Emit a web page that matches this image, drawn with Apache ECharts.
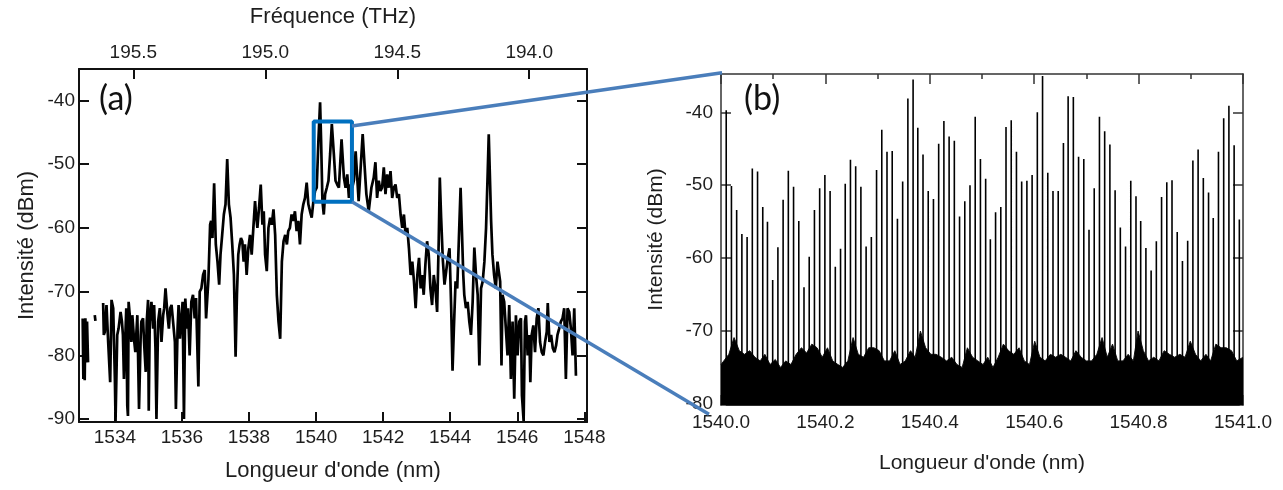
<!DOCTYPE html>
<html><head><meta charset="utf-8">
<script src="https://cdn.jsdelivr.net/npm/echarts@6/dist/echarts.min.js"></script>
<style>html,body{margin:0;padding:0;background:#fff}#c{width:1283px;height:490px}</style>
</head><body><div id="c"></div>
<script>
// ---------- Panel (a): broad spectrum ----------
const leftNm = [1533.04,1533.06,1533.08,1533.10,1533.12,1533.15,1533.17,1533.20,1533.30,1533.40,1533.42,1533.50,
1533.65,1533.67,1533.70,1533.75,1533.80,1533.86,1533.90,1533.95,1534.00,1534.02,1534.07,1534.11,1534.17,1534.21,1534.24,1534.27,
1534.34,1534.37,1534.39,1534.41,1534.46,1534.49,1534.52,1534.57,1534.61,1534.67,1534.72,1534.77,1534.79,1534.84,1534.87,1534.92,
1534.95,1534.99,1535.01,1535.04,1535.09,1535.14,1535.17,1535.21,1535.24,1535.29,1535.34,1535.39,1535.44,1535.47,1535.51,1535.53,
1535.57,1535.61,1535.65,1535.69,1535.74,1535.79,1535.82,1535.87,1535.90,1535.94,1535.98,1536.02,1536.06,1536.10,1536.15,1536.18,
1536.23,1536.28,1536.33,1536.38,1536.42,1536.49,1536.53,1536.58,1536.63,1536.68,
1536.72,1536.79,1536.84,1536.87,1536.91,1536.96,1537.01,1537.06,1537.11,1537.15,1537.20,1537.25,1537.30,1537.35,1537.40,1537.45,
1537.50,1537.55,1537.60,1537.64,1537.68,1537.72,1537.76,1537.80,1537.84,1537.88,1537.93,1537.98,1538.03,1538.08,1538.13,1538.18,
1538.21,1538.25,1538.30,1538.35,1538.38,1538.40,1538.44,1538.48,1538.53,1538.58,1538.63,1538.68,1538.73,1538.78,1538.83,1538.88,
1538.93,1538.98,1539.03,1539.08,1539.13,1539.17,1539.22,1539.27,1539.32,1539.37,1539.42,1539.47,1539.52,1539.57,1539.62,1539.67,
1539.72,1539.77,1539.82,1539.87,1539.92,1539.97,1540.02,1540.07,1540.12,1540.15,1540.19,1540.23,1540.27,1540.32,1540.37,1540.42,
1540.47,1540.53,1540.58,1540.63,1540.68,1540.76,1540.83,1540.88,1540.93,1540.98,1541.03,1541.08,1541.13,1541.18,1541.27,1541.39,
1541.45,1541.50,1541.57,1541.65,1541.72,1541.77,1541.82,1541.87,1541.92,1541.97,1542.02,1542.07,1542.12,1542.17,1542.22,1542.27,
1542.32,1542.37,1542.42,1542.47,1542.52,1542.57,1542.62,1542.67,1542.72,1542.77,1542.82,1542.87,1542.92,1542.97,1543.02,1543.07,
1543.12,1543.16,1543.21,1543.26,1543.31,1543.36,1543.41,1543.46,1543.51,1543.56,1543.61,1543.66,1543.69,1543.73,1543.78,1543.83,
1543.88,1543.93,1543.98,1544.03,1544.07,1544.11,1544.16,1544.21,1544.26,1544.31,
1544.35,1544.39,1544.42,1544.47,1544.52,1544.57,1544.62,1544.67,1544.72,1544.77,1544.82,1544.87,1544.92,1544.97,1545.02,1545.07,
1545.12,1545.15,1545.18,1545.22,1545.26,1545.31,1545.36,1545.41,1545.46,1545.49,1545.53,1545.56,1545.61,1545.66,1545.71,1545.76,
1545.81,1545.86,1545.91,1545.96,1546.01,1546.06,1546.11,1546.14,1546.19,1546.23,1546.26,1546.31,1546.36,1546.39,1546.43,1546.48,
1546.53,1546.58,1546.63,1546.68,1546.73,1546.78,1546.83,1546.88,1546.91,1546.96,1547.01,1547.06,1547.11,1547.16,1547.20,1547.25,
1547.30,1547.35,1547.40,1547.45,1547.50,1547.55,1547.60,1547.65,1547.70,1547.75];
const leftDb = [-74.2,-83.7,-74.7,-83.9,-74.2,-81.1,-74.7,-81.1,null,-73.7,-74.6,null,
-71.8,-76.8,-76.3,-72.1,-77.9,-84.2,-71.3,-72.6,-83.7,-90.3,-76.8,-75.8,-73.2,-74.7,-76.8,-83.7,
-72.6,-87.9,-89.5,-71.6,-74.7,-77.9,-73.7,-77.4,-79.5,-73.7,-88.4,-76.8,-74.7,-74.2,-77.9,-82.6,
-74.7,-71.3,-88.7,-74.7,-71.6,-75.8,-72.1,-78.9,-90.0,-74.7,-72.6,-77.9,-73.7,-72.6,-69.5,-69.5,
-73.7,-75.8,-72.6,-72.1,-71.8,-77.9,-88.4,-75.8,-72.1,-77.4,-74.2,-71.6,-90.0,-71.1,-75.8,-72.6,
-80.0,-71.6,-70.5,-74.2,-71.0,-84.9,-70.0,-69.5,-67.4,-66.6,
-74.2,-68.0,-59.5,-58.9,-61.6,-53.0,-62.6,-65.3,-68.9,-64.2,-61.1,-57.9,-56.3,-49.2,-56.3,-58.4,
-62.6,-67.4,-80.2,-70.5,-64.2,-62.6,-61.6,-62.1,-65.3,-62.6,-67.4,-63.2,-61.1,-64.2,-60.0,-55.8,
-57.9,-60.0,-56.8,-53.2,-53.4,-59.5,-57.4,-64.2,-66.8,-60.0,-58.4,-59.5,-57.1,-61.1,-70.5,-74.7,
-77.4,-65.3,-62.1,-61.1,-62.6,-60.5,-60.0,-57.9,-58.9,-57.4,-60.5,-58.9,-62.6,-57.9,-56.3,-55.3,
-52.9,-56.3,-57.4,-58.4,-55.8,-54.2,-53.7,-46.3,-40.3,-46.3,-55.8,-57.9,-54.7,-53.7,-52.6,-48.4,
-43.7,-48.4,-52.6,-53.2,-53.7,-46.1,-52.1,-53.7,-51.6,-55.3,-53.2,-53.7,-52.5,-48.0,-55.8,-45.3,
-50.5,-54.7,-57.4,-53.7,-52.1,-49.7,-55.3,-52.6,-54.2,-53.7,-50.5,-54.7,-51.6,-53.7,-51.1,-55.3,
-53.7,-53.2,-55.3,-54.7,-57.9,-60.0,-57.9,-61.1,-60.0,-63.2,-67.4,-65.3,-68.4,-72.6,-67.4,-64.7,
-69.5,-67.4,-70.5,-65.8,-62.1,-64.2,-69.5,-72.1,-67.4,-69.5,-73.2,-61.6,-52.1,-58.4,-65.0,-68.9,
-66.8,-64.7,-63.2,-72.6,-82.4,-75.8,-68.4,-69.5,-61.6,-53.7,
-60.5,-67.4,-70.5,-72.6,-71.6,-74.7,-76.8,-71.6,-63.1,-67.4,-70.5,-81.6,-69.5,-68.4,-65.3,-60.0,
-51.1,-45.3,-51.1,-58.9,-64.2,-67.4,-69.5,-65.3,-65.3,-68.4,-81.6,-70.5,-71.6,-75.8,-80.0,-72.1,
-83.7,-74.7,-86.8,-73.7,-80.0,-74.7,-74.2,-86.3,-90.3,-74.7,-73.7,-80.0,-76.8,-84.2,-76.8,-75.3,
-79.5,-74.2,-72.6,-77.9,-79.5,-80.0,-77.9,-76.3,-71.8,-77.9,-76.8,-78.9,-79.5,-78.4,-76.8,-75.8,
-74.7,-74.2,-72.6,-83.7,-72.6,-73.2,-75.8,-80.0,-72.6,-83.2];

const leftNmTicks = [1534, 1536, 1538, 1540, 1542, 1544, 1546, 1548];
const leftDbTicks = [-90, -80, -70, -60, -50, -40];
const freqTicks = [195.5, 195.0, 194.5, 194.0];
// zoom box (nm range, dBm range)
const boxNm = [1539.93, 1541.07];
const boxDb = [-55.9, -43.3];

// ---------- Panel (b): zoomed comb ----------
const combNm = [1540.010,1540.020,1540.030,1540.040,1540.050,1540.060,1540.070,1540.080,1540.089,1540.099,
1540.109,1540.119,1540.129,1540.139,1540.149,1540.159,1540.169,1540.179,1540.189,1540.199,
1540.209,1540.219,1540.229,1540.238,1540.248,1540.258,1540.268,1540.278,1540.288,1540.298,
1540.308,1540.318,1540.328,1540.338,1540.348,1540.358,1540.368,1540.377,1540.387,1540.397,
1540.407,1540.417,1540.427,1540.437,1540.447,1540.457,1540.467,1540.477,1540.487,1540.497,
1540.507,1540.516,1540.526,1540.536,1540.546,1540.556,1540.566,1540.576,1540.586,1540.596,
1540.606,1540.616,1540.626,1540.636,1540.646,1540.656,1540.665,1540.675,1540.685,1540.695,
1540.705,1540.715,1540.725,1540.735,1540.745,1540.755,1540.765,1540.775,1540.785,1540.795,
1540.804,1540.814,1540.824,1540.834,1540.844,1540.854,1540.864,1540.874,1540.884,1540.894,
1540.904,1540.914,1540.924,1540.934,1540.943,1540.953,1540.963,1540.973,1540.983,1540.993];
const combPeak = [-39.7,-50.1,-53.4,-56.7,-57.1,-47.7,-48.1,-53.0,-55.0,-63.0,
-58.5,-52.0,-48.0,-50.2,-54.9,-64.0,-59.8,-53.4,-50.4,-48.6,
-50.8,-61.2,-58.7,-49.8,-46.5,-47.4,-50.2,-58.4,-57.1,-47.9,
-42.4,-45.4,-45.3,-54.6,-49.5,-38.1,-35.5,-42.1,-45.8,-50.8,
-51.9,-44.3,-41.2,-43.3,-43.9,-54.3,-52.2,-50.0,-40.6,-46.4,
-49.1,-57.4,-53.7,-53.0,-42.0,-41.1,-45.4,-49.5,-49.4,-48.6,
-40.0,-35.0,-48.3,-50.8,-50.8,-44.2,-37.8,-37.9,-46.1,-46.4,
-56.1,-50.4,-40.6,-42.6,-44.4,-50.7,-55.8,-58.4,-49.4,-51.5,
-54.9,-58.6,-61.7,-57.7,-51.6,-49.6,-49.3,-56.4,-60.4,-57.6,
-46.6,-45.1,-49.0,-51.0,-54.5,-45.4,-40.8,-39.1,-44.5,-54.7];
const noiseNm = [1540.000,1540.015,1540.025,1540.035,1540.045,1540.055,1540.065,1540.075,1540.084,1540.094,
1540.104,1540.114,1540.124,1540.134,1540.144,1540.154,1540.164,1540.174,1540.184,1540.194,
1540.204,1540.214,1540.224,1540.233,1540.243,1540.253,1540.263,1540.273,1540.283,1540.293,
1540.303,1540.313,1540.323,1540.333,1540.343,1540.353,1540.363,1540.372,1540.382,1540.392,
1540.402,1540.412,1540.422,1540.432,1540.442,1540.452,1540.462,1540.472,1540.482,1540.492,
1540.502,1540.511,1540.521,1540.531,1540.541,1540.551,1540.561,1540.571,1540.581,1540.591,
1540.601,1540.611,1540.621,1540.631,1540.641,1540.651,1540.660,1540.670,1540.680,1540.690,
1540.700,1540.710,1540.720,1540.730,1540.740,1540.750,1540.760,1540.770,1540.780,1540.790,
1540.799,1540.809,1540.819,1540.829,1540.839,1540.849,1540.859,1540.869,1540.879,1540.889,
1540.899,1540.909,1540.919,1540.929,1540.938,1540.948,1540.958,1540.968,1540.978,1540.988,1541.000];
const noiseDb = [-74.6,-73.2,-70.9,-72.7,-73.2,-72.7,-73.6,-74.1,-73.2,-74.6,
-73.9,-75.0,-74.1,-74.6,-73.2,-72.3,-73.0,-71.8,-72.3,-73.6,
-72.3,-74.1,-74.6,-75.0,-74.1,-70.9,-73.2,-73.6,-72.3,-72.3,
-72.7,-74.1,-74.1,-72.7,-74.6,-74.1,-72.7,-73.6,-70.0,-72.3,
-73.2,-73.2,-73.6,-74.1,-73.6,-74.6,-75.0,-72.3,-73.6,-74.1,
-74.6,-73.6,-75.0,-73.6,-71.8,-72.7,-73.2,-72.3,-74.1,-74.6,
-71.4,-73.6,-74.1,-73.2,-73.6,-73.2,-73.6,-74.1,-72.7,-73.6,
-74.1,-74.1,-73.2,-70.9,-73.6,-71.8,-74.1,-74.1,-73.2,-74.1,
-70.0,-72.7,-74.1,-73.6,-74.1,-72.7,-73.2,-73.6,-73.2,-73.6,
-71.4,-73.2,-74.1,-73.2,-74.1,-71.8,-72.3,-72.3,-72.7,-74.1,-73.6];
const rightDbTicks = [-80, -70, -60, -50, -40];
// connector lines: [nm, dBm] in panel (a) -> [nm, dBm] in panel (b)
const connFrom = [[1541.07, -44.0], [1541.07, -55.9]];
const connTo = [[1540.002, -34.56], [1539.977, -81.43]];

// ---------- chart ----------
const FONT = 'Liberation Sans, Arial, sans-serif';
const TXT = '#1e1e1e';
const chart = echarts.init(document.getElementById('c'), null, {renderer: 'canvas'});

function frameAxis(extra) {
  return Object.assign({
    type: 'value', splitLine: {show: false},
    axisLine: {show: true, onZero: false, lineStyle: {color: '#111', width: 2}},
    axisTick: {show: true, inside: true, length: 10, lineStyle: {color: '#111', width: 2}},
    axisLabel: {show: false},
    nameTextStyle: {fontFamily: FONT, fontSize: 22, color: TXT}
  }, extra);
}

const leftLine = leftNm.map((x, i) => [x, leftDb[i] === null ? '-' : leftDb[i]]);
const boxData = [[boxNm[0], boxDb[0]], [boxNm[1], boxDb[0]], [boxNm[1], boxDb[1]], [boxNm[0], boxDb[1]], [boxNm[0], boxDb[0]]];
const noiseData = noiseNm.map((x, i) => [x, noiseDb[i]]);
const RMIN = -80.15, RMAX = -34.74;
const combData = [];
combNm.forEach((x, i) => { combData.push([x, RMIN], [x, combPeak[i]], [x, RMIN]); });

const plain = v => String(v);
const option = {
  animation: false,
  backgroundColor: '#fff',
  grid: [
    {left: 79, top: 69, width: 508, height: 353},
    {left: 721, top: 74, width: 522, height: 331}
  ],
  xAxis: [
    frameAxis({gridIndex: 0, position: 'bottom', min: 1532.93, max: 1548.08,
      axisTick: {show: true, inside: true, length: 10, customValues: leftNmTicks, lineStyle: {color: '#111', width: 2}},
      axisLabel: {show: true, customValues: leftNmTicks, formatter: plain, fontFamily: FONT, fontSize: 19, color: TXT, margin: 6},
      name: "Longueur d'onde (nm)", nameLocation: 'middle', nameGap: 38}),
    frameAxis({gridIndex: 0, position: 'top', inverse: true, min: 193.781, max: 195.706,
      axisTick: {show: true, inside: true, length: 10, customValues: freqTicks, lineStyle: {color: '#111', width: 2}},
      axisLabel: {show: true, customValues: freqTicks, formatter: v => v.toFixed(1), fontFamily: FONT, fontSize: 19, color: TXT, margin: 7},
      name: 'Fréquence (THz)', nameLocation: 'middle', nameGap: 41}),
    frameAxis({gridIndex: 1, position: 'bottom', min: 1540, max: 1541, interval: 0.2,
      axisLine: {show: true, onZero: false, lineStyle: {color: '#333', width: 1.5}},
      axisTick: {show: true, inside: true, length: 10, lineStyle: {color: '#333', width: 1.5}},
      minorTick: {show: true, splitNumber: 2, length: 5, lineStyle: {color: '#333', width: 1.5}},
      axisLabel: {show: true, formatter: v => v.toFixed(1), fontFamily: FONT, fontSize: 19, color: TXT, margin: 8},
      name: "Longueur d'onde (nm)", nameLocation: 'middle', nameGap: 48, nameTextStyle: {fontFamily: FONT, fontSize: 21, color: TXT}}),
    frameAxis({gridIndex: 1, position: 'top', min: 1540, max: 1541, interval: 0.2,
      axisLine: {show: true, onZero: false, lineStyle: {color: '#333', width: 1.5}},
      axisTick: {show: true, inside: true, length: 10, lineStyle: {color: '#333', width: 1.5}},
      minorTick: {show: true, splitNumber: 2, length: 5, lineStyle: {color: '#333', width: 1.5}}})
  ],
  yAxis: [
    frameAxis({gridIndex: 0, position: 'left', min: -90.46, max: -35.07,
      axisTick: {show: true, inside: true, length: 10, customValues: leftDbTicks, lineStyle: {color: '#111', width: 2}},
      axisLabel: {show: true, customValues: leftDbTicks, formatter: plain, fontFamily: FONT, fontSize: 19, color: TXT, margin: 4},
      name: 'Intensité (dBm)', nameLocation: 'middle', nameGap: 41}),
    frameAxis({gridIndex: 0, position: 'right', min: -90.46, max: -35.07,
      axisTick: {show: true, inside: true, length: 10, customValues: leftDbTicks, lineStyle: {color: '#111', width: 2}}}),
    frameAxis({gridIndex: 1, position: 'left', min: RMIN, max: RMAX,
      axisLine: {show: true, onZero: false, lineStyle: {color: '#333', width: 1.5}},
      axisTick: {show: true, inside: true, length: 10, customValues: rightDbTicks, lineStyle: {color: '#333', width: 1.5}},
      axisLabel: {show: true, customValues: rightDbTicks, formatter: plain, fontFamily: FONT, fontSize: 19, color: TXT, margin: 8},
      name: 'Intensité (dBm)', nameLocation: 'middle', nameGap: 54, nameTextStyle: {fontFamily: FONT, fontSize: 21, color: TXT}}),
    frameAxis({gridIndex: 1, position: 'right', min: RMIN, max: RMAX,
      axisLine: {show: true, onZero: false, lineStyle: {color: '#333', width: 1.5}},
      axisTick: {show: true, inside: true, length: 10, customValues: rightDbTicks, lineStyle: {color: '#333', width: 1.5}}})
  ],
  series: [
    {type: 'line', xAxisIndex: 0, yAxisIndex: 0, data: leftLine, showSymbol: false, connectNulls: false,
      lineStyle: {color: '#000', width: 2.7}, z: 3},
    {type: 'line', xAxisIndex: 0, yAxisIndex: 0, data: boxData, showSymbol: false,
      lineStyle: {color: '#0070C0', width: 4}, z: 5},
    {type: 'line', xAxisIndex: 2, yAxisIndex: 2, data: noiseData, showSymbol: false,
      lineStyle: {color: '#111', width: 1}, areaStyle: {color: '#000', opacity: 1, origin: 'start'}, z: 2},
    {type: 'line', xAxisIndex: 2, yAxisIndex: 2, data: combData, showSymbol: false,
      lineStyle: {color: '#000', width: 1.6}, z: 3}
  ]
};
chart.setOption(option);

const graphics = [
  {type: 'text', left: 99, top: 82, z: 50, style: {text: '(a)', font: '34px Lato, "Open Sans", sans-serif', fill: '#111'}},
  {type: 'text', left: 744, top: 82, z: 50, style: {text: '(b)', font: '34px Lato, "Open Sans", sans-serif', fill: '#111'}}
];
connFrom.forEach((f, i) => {
  const p1 = chart.convertToPixel({xAxisIndex: 0, yAxisIndex: 0}, f);
  const p2 = chart.convertToPixel({xAxisIndex: 2, yAxisIndex: 2}, connTo[i]);
  graphics.push({type: 'line', z: 60, shape: {x1: p1[0], y1: p1[1], x2: p2[0], y2: p2[1]},
    style: {stroke: '#4A7EBB', lineWidth: 3.5}});
});
chart.setOption({graphic: graphics});
</script></body></html>
